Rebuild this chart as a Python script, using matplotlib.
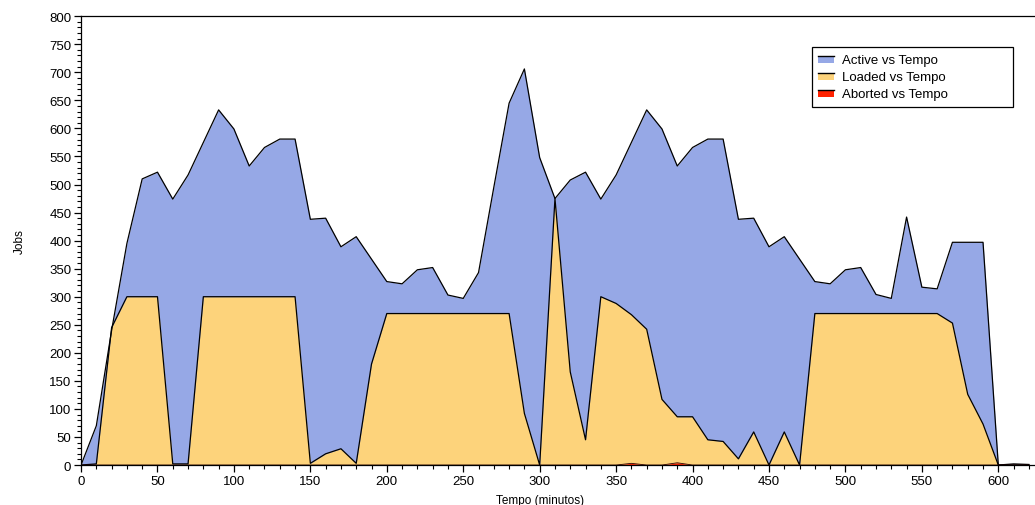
import numpy as np
import matplotlib
matplotlib.use('Agg')
from matplotlib import pyplot as plt
from matplotlib.patches import Rectangle
from matplotlib.lines import Line2D
from matplotlib.legend_handler import HandlerBase
from matplotlib.ticker import MultipleLocator

plt.rcParams['font.family'] = ['Liberation Sans', 'DejaVu Sans']

# job counts sampled every 10 minutes
tempo = np.arange(0, 630, 10)

active = [0, 70, 240, 395, 510, 522, 474, 517, 575, 633,
          599, 533, 566, 581, 581, 438, 440, 389, 407, 367,
          327, 323, 348, 352, 303, 297, 343, 495, 645, 706,
          548, 475, 508, 522, 474, 517, 575, 633, 599, 533,
          566, 581, 581, 438, 440, 389, 407, 367, 327, 323,
          348, 352, 304, 297, 442, 317, 314, 397, 397, 397,
          0, 2, 1]

loaded = [0, 2, 245, 300, 300, 300, 2, 2, 300, 300,
          300, 300, 300, 300, 300, 3, 20, 29, 3, 180,
          270, 270, 270, 270, 270, 270, 270, 270, 270, 92,
          0, 475, 166, 45, 300, 288, 268, 242, 117, 86,
          86, 45, 42, 11, 59, 0, 59, 0, 270, 270,
          270, 270, 270, 270, 270, 270, 270, 253, 126, 73,
          0, 0, 0]

aborted = [0] * 63
aborted[36] = 3
aborted[39] = 4

c_active = '#96a8e6'
c_loaded = '#fdd37b'
c_aborted = '#ff2200'


class TopLineHandler(HandlerBase):
    # coloured swatch with a black line along its top edge
    def create_artists(self, legend, orig_handle, xdescent, ydescent,
                       width, height, fontsize, trans):
        w = width * 0.8
        h = height * 0.8
        r = Rectangle((-xdescent, -ydescent), w, h,
                      facecolor=orig_handle.get_facecolor(), edgecolor='none',
                      transform=trans)
        l = Line2D([-xdescent, -xdescent + w], [-ydescent + h] * 2,
                   color='black', lw=1.0, transform=trans)
        return [r, l]


fig = plt.figure(figsize=(10.35, 5.06), dpi=100)
ax = fig.add_axes([0.0783, 0.079, 0.9217, 0.887])

ax.fill_between(tempo, 0, active, color=c_active, lw=0)
ax.plot(tempo, active, color='black', lw=0.9)
ax.fill_between(tempo, 0, loaded, color=c_loaded, lw=0)
ax.plot(tempo, loaded, color='black', lw=0.9)
ax.fill_between(tempo, 0, aborted, color=c_aborted, lw=0)
ax.plot(tempo, aborted, color='#300000', lw=0.6)

ax.set_xlim(0, 624)
ax.set_ylim(0, 800)
ax.xaxis.set_major_locator(MultipleLocator(50))
ax.xaxis.set_minor_locator(MultipleLocator(10))
ax.yaxis.set_major_locator(MultipleLocator(50))
ax.yaxis.set_minor_locator(MultipleLocator(10))
ax.tick_params(which='major', direction='out', length=5, width=0.9, labelsize=9.5, pad=2)
ax.tick_params(which='minor', direction='out', length=3, width=0.8)
ax.spines['right'].set_visible(False)
for s in ['left', 'top', 'bottom']:
    ax.spines[s].set_linewidth(0.9)

ax.set_xlabel('Tempo (minutos)', fontsize=8.5, labelpad=1)
ax.xaxis.set_label_coords(300 / 624, -0.064)
ax.set_ylabel('Jobs', fontsize=8.5)
ax.yaxis.set_label_coords(-0.058, 0.5)

handles = [Rectangle((0, 0), 1, 1, facecolor=c) for c in (c_active, c_loaded, c_aborted)]
leg = ax.legend(handles, ['Active vs Tempo', 'Loaded vs Tempo', 'Aborted vs Tempo'],
                handler_map={Rectangle: TopLineHandler()},
                loc='upper left', bbox_to_anchor=(0.766, 0.80, 0.211, 0.131),
                mode='expand', fontsize=9.5, frameon=True, fancybox=False,
                edgecolor='black', framealpha=1, borderpad=0.5,
                labelspacing=0.36, handlelength=1.5, handletextpad=0.3,
                borderaxespad=0)
leg.get_frame().set_linewidth(0.9)

plt.savefig('out.png', dpi=100)
